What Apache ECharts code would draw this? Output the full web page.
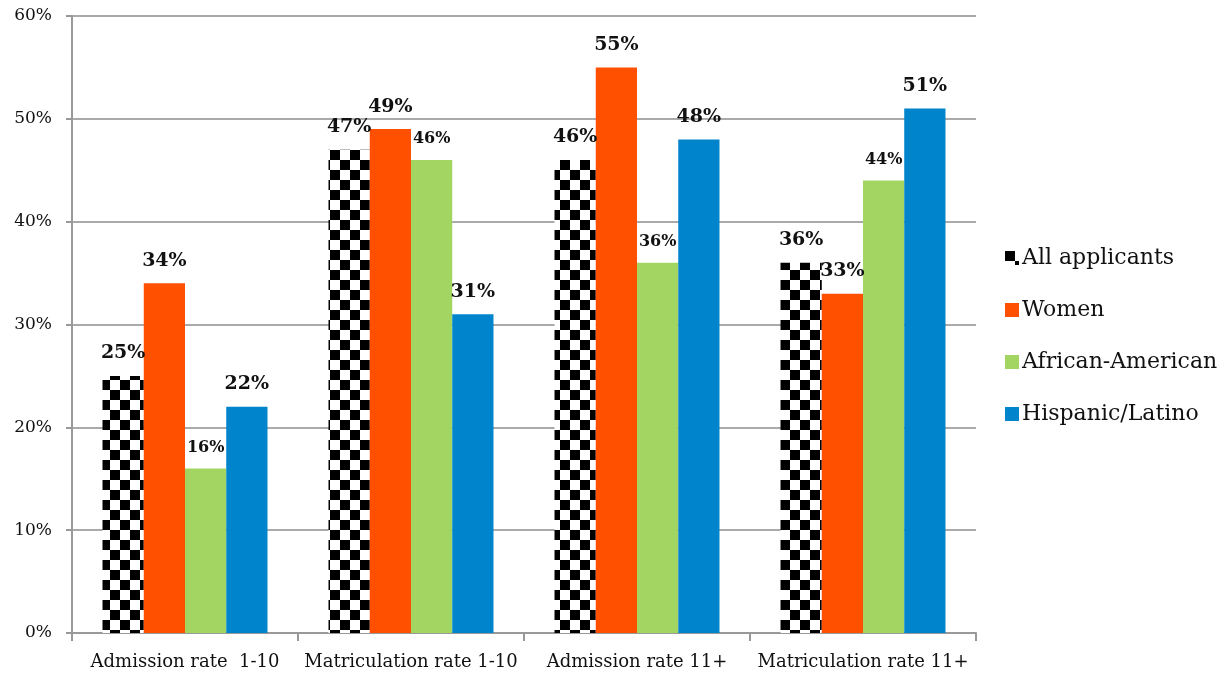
<!DOCTYPE html>
<html>
<head>
<meta charset="utf-8">
<script src="https://cdn.jsdelivr.net/npm/echarts@6/dist/echarts.min.js"></script>
<style>
  html, body { margin: 0; padding: 0; background: #fff; }
  #chart { width: 1228px; height: 673px; }
</style>
</head>
<body>
<div id="chart"></div>
<script>
// Rates by applicant group, in percent
const categories = ['Admission rate  1-10', 'Matriculation rate 1-10', 'Admission rate 11+', 'Matriculation rate 11+'];
const seriesNames = ['All applicants', 'Women', 'African-American', 'Hispanic/Latino'];
const allApplicants = [25, 47, 46, 36];
const women = [34, 49, 55, 33];
const africanAmerican = [16, 46, 36, 44];
const hispanicLatino = [22, 31, 48, 51];
const yTicks = [0, 10, 20, 30, 40, 50, 60];

const FONT = '"DejaVu Serif", serif';

// Black/white checkerboard fill for the "All applicants" bars
function checkerCanvas() {
  const c = document.createElement('canvas');
  const s = 10;
  c.width = s * 2; c.height = s * 2;
  const ctx = c.getContext('2d');
  ctx.fillStyle = '#fff';
  ctx.fillRect(0, 0, s * 2, s * 2);
  ctx.fillStyle = '#000';
  ctx.fillRect(0, 0, s, s);
  ctx.fillRect(s, s, s, s);
  return c;
}
const checker = { image: checkerCanvas(), repeat: 'repeat' };

const colors = [checker, '#FF5000', '#A2D561', '#0085CC'];
const dataSets = [allApplicants, women, africanAmerican, hispanicLatino];
const smallLabel = [false, false, true, false];

const chart = echarts.init(document.getElementById('chart'));

const series = seriesNames.map((name, i) => ({
  name,
  type: 'bar',
  data: dataSets[i],
  barGap: '0%',
  barCategoryGap: '27%',
  itemStyle: { color: colors[i] },
  label: {
    show: true,
    position: 'top',
    distance: 13,
    formatter: p => p.value + '%',
    fontFamily: FONT,
    fontWeight: 'bold',
    fontSize: smallLabel[i] ? 16 : 19,
    color: '#111'
  }
}));

chart.setOption({
  animation: false,
  backgroundColor: '#fff',
  grid: { left: 72, right: 252, top: 16, bottom: 40, containLabel: false },
  legend: {
    orient: 'vertical',
    left: 1000,
    top: 242,
    itemWidth: 14,
    itemHeight: 14,
    itemGap: 30,
    icon: 'rect',
    textStyle: { fontFamily: FONT, fontSize: 22, color: '#111', padding: [0, 0, 0, -2] },
    data: seriesNames
  },
  xAxis: {
    type: 'category',
    data: categories,
    axisLine: { lineStyle: { color: '#999', width: 2 } },
    axisTick: { show: true, length: 8, lineStyle: { color: '#999', width: 2 } },
    axisLabel: { interval: 0, fontFamily: FONT, fontSize: 18, color: '#111', margin: 20 }
  },
  yAxis: {
    type: 'value',
    min: 0,
    max: 60,
    interval: 10,
    axisLine: { show: true, lineStyle: { color: '#999', width: 2 } },
    axisTick: { show: true, length: 6, inside: false, lineStyle: { color: '#999', width: 2 } },
    axisLabel: {
      fontFamily: FONT, fontSize: 17, color: '#111', margin: 20,
      formatter: v => yTicks.includes(v) ? v + '%' : ''
    },
    splitLine: { lineStyle: { color: '#aaa', width: 2 } }
  },
  series
});
</script>
</body>
</html>
